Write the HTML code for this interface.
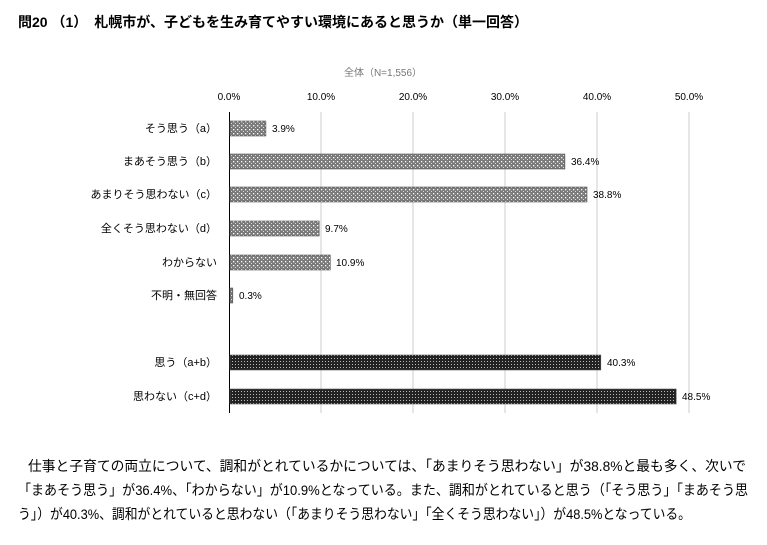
<!DOCTYPE html>
<html><head><meta charset="utf-8"><style>
body{margin:0;background:#fff;width:767px;height:545px;overflow:hidden;font-family:"Liberation Sans","Noto Sans CJK JP",sans-serif;color:#000}
.t{position:absolute;left:18px;top:12px;font-size:14px;font-weight:bold;white-space:nowrap}
</style></head><body>
<div class="t">問20 （1）　札幌市が、子どもを生み育てやすい環境にあると思うか（単一回答）</div>
<svg width="767" height="545" style="position:absolute;left:0;top:0" font-family="Liberation Sans, Noto Sans CJK JP, sans-serif">
<defs>
<pattern id="l" width="4" height="4" patternUnits="userSpaceOnUse"><rect width="4" height="4" fill="#7a7a7a"/><rect x="1" y="1" width="1.3" height="1.3" fill="#fff"/><rect x="3" y="3" width="1" height="1" fill="#ddd"/></pattern>
<pattern id="d" width="3" height="3" patternUnits="userSpaceOnUse"><rect width="3" height="3" fill="#222"/><rect x="1" y="1" width="1" height="1" fill="#bbb"/></pattern>
</defs>
<text x="383" y="76" font-size="10" fill="#777" text-anchor="middle">全体（N=1,556）</text>
<g font-size="10" text-anchor="middle">
<text x="229" y="100">0.0%</text><text x="321" y="100">10.0%</text><text x="413" y="100">20.0%</text><text x="505" y="100">30.0%</text><text x="597" y="100">40.0%</text><text x="689" y="100">50.0%</text></g>
<g stroke="#ccc" stroke-width="1"><line x1="321" y1="112" x2="321" y2="413"/><line x1="413" y1="112" x2="413" y2="413"/><line x1="505" y1="112" x2="505" y2="413"/><line x1="597" y1="112" x2="597" y2="413"/><line x1="689" y1="112" x2="689" y2="413"/></g>
<line x1="229.5" y1="112" x2="229.5" y2="413" stroke="#000"/>
<g stroke="#555" stroke-width="0.6">
<rect x="230" y="121" width="35.9" height="15" fill="url(#l)"/>
<rect x="230" y="154" width="334.9" height="15" fill="url(#l)"/>
<rect x="230" y="187" width="357" height="15" fill="url(#l)"/>
<rect x="230" y="221" width="89.2" height="15" fill="url(#l)"/>
<rect x="230" y="255" width="100.3" height="15" fill="url(#l)"/>
<rect x="230" y="288" width="2.8" height="15" fill="url(#l)"/>
<rect x="230" y="355" width="370.8" height="15" fill="url(#d)"/>
<rect x="230" y="389" width="446.2" height="15" fill="url(#d)"/>
</g>
<g font-size="10">
<text x="272" y="132">3.9%</text><text x="571" y="165">36.4%</text><text x="593" y="198">38.8%</text><text x="325" y="232">9.7%</text><text x="336" y="266">10.9%</text><text x="239" y="299">0.3%</text><text x="607" y="366">40.3%</text><text x="682" y="400">48.5%</text></g>
<g font-size="11" text-anchor="end">
<text x="217" y="132">そう思う（a）</text><text x="217" y="165">まあそう思う（b）</text><text x="217" y="198">あまりそう思わない（c）</text><text x="217" y="232">全くそう思わない（d）</text><text x="217" y="266">わからない</text><text x="217" y="299">不明・無回答</text><text x="217" y="366">思う（a+b）</text><text x="217" y="400">思わない（c+d）</text></g>
<g font-size="14">
<text x="28" y="471" textLength="718" lengthAdjust="spacingAndGlyphs">仕事と子育ての両立について、調和がとれているかについては、「あまりそう思わない」が38.8%と最も多く、次いで</text>
<text x="18" y="495" textLength="730" lengthAdjust="spacingAndGlyphs">「まあそう思う」が36.4%、「わからない」が10.9%となっている。また、調和がとれていると思う（「そう思う」「まあそう思</text>
<text x="18" y="519" textLength="673" lengthAdjust="spacingAndGlyphs">う」）が40.3%、調和がとれていると思わない（「あまりそう思わない」「全くそう思わない」）が48.5%となっている。</text>
</g>
</svg>
</body></html>
